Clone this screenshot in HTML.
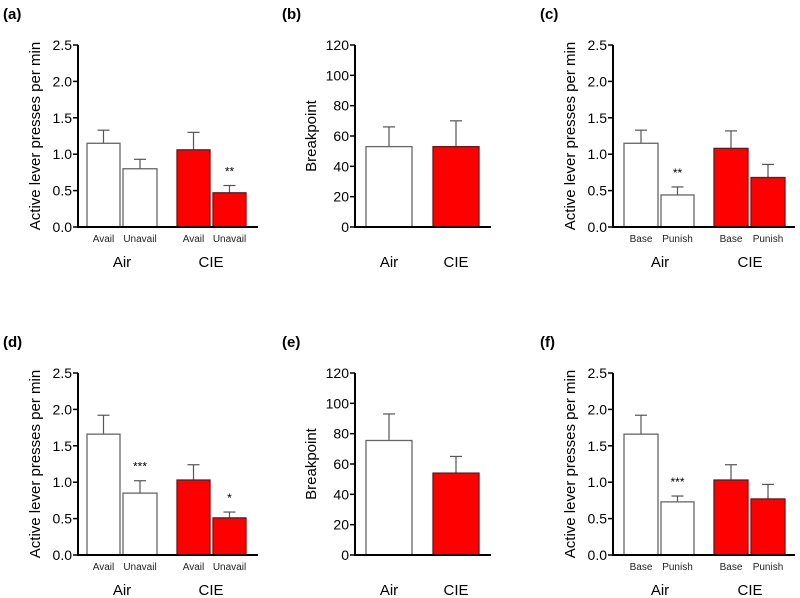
<!DOCTYPE html>
<html><head><meta charset="utf-8"><style>
html,body{margin:0;padding:0;background:#fff;width:800px;height:598px;overflow:hidden}
svg text{font-family:"Liberation Sans",Arial,sans-serif}
</style></head><body>
<svg id="fig" width="800" height="598" viewBox="0 0 800 598" xmlns="http://www.w3.org/2000/svg"></svg>
<script>
// ---- data ----
const aValues=[1.15,0.80,1.06,0.47];
const aErrors=[0.18,0.13,0.24,0.10];
const aStars=["","","","**"];
const bValues=[53,53];
const bErrors=[13,17];
const cValues=[1.15,0.44,1.08,0.68];
const cErrors=[0.18,0.11,0.24,0.18];
const cStars=["","**","",""];
const dValues=[1.66,0.85,1.03,0.51];
const dErrors=[0.26,0.17,0.21,0.08];
const dStars=["","***","","*"];
const eValues=[75.5,54];
const eErrors=[17.5,11];
const fValues=[1.66,0.73,1.03,0.77];
const fErrors=[0.26,0.08,0.21,0.20];
const fStars=["","***","",""];
const rateTicks=["0.0","0.5","1.0","1.5","2.0","2.5"];
const bpTicks=["0","20","40","60","80","100","120"];
const availCats=["Avail","Unavail","Avail","Unavail"];
const punishCats=["Base","Punish","Base","Punish"];
const groups=["Air","CIE"];

const NS="http://www.w3.org/2000/svg";
const svg=document.getElementById('fig');
function mk(tag,attrs,parent,text){const e=document.createElementNS(NS,tag);for(const k in attrs)e.setAttribute(k,attrs[k]);if(text!==undefined)e.textContent=text;(parent||svg).appendChild(e);return e;}

function panel(o){
  const g=mk('g',{});
  
  
  const top=o.top,bot=o.top+182,ax=o.ax,ymax=o.ymax;
  const y=v=>bot-(v/ymax)*(bot-top);
  const lab=mk('text',{x:o.lx,y:o.top-26,'font-size':15,'font-weight':'bold'},g,'('+o.id+')');
  
  
  o.values.forEach((v,i)=>{
    const x0=o.bars[i][0],x1=o.bars[i][1],xc=(x0+x1)/2;
    const red=o.red[i];
    const eb=mk('line',{x1:xc,x2:xc,y1:y(v),y2:y(v+o.errors[i]),stroke:'#555','stroke-width':1.2},g);
    
    
    const cap=mk('line',{x1:xc-6,x2:xc+6,y1:y(v+o.errors[i]),y2:y(v+o.errors[i]),stroke:'#555','stroke-width':1.2},g);
    
    
    const r=mk('rect',{x:x0,y:y(v),width:x1-x0,height:bot-y(v),fill:red?'#ff0000':'#fff',stroke:red?'#7a1010':'#666','stroke-width':1.3},g);
    
    
    if(o.stars&&o.stars[i]){
      const s=mk('text',{x:xc,y:y(v+o.errors[i])-10,'font-size':12,'text-anchor':'middle'},g,o.stars[i]);
      
      
    }
    if(o.cats){
      const c=mk('text',{x:xc,y:bot+15,'font-size':10,'text-anchor':'middle',fill:'#222'},g,o.cats[i]);
      
      
    }
  });
  const ya=mk('line',{x1:ax,x2:ax,y1:top,y2:bot,stroke:'#000','stroke-width':2},g);
  
  
  const xa=mk('line',{x1:ax-1,x2:o.axEnd,y1:bot,y2:bot,stroke:'#000','stroke-width':2},g);
  
  
  o.ticks.forEach(t=>{
    const ty=y(parseFloat(t));
    const tl=mk('line',{x1:ax-5,x2:ax,y1:ty,y2:ty,stroke:'#000','stroke-width':1.5},g);
    
    
    const tt=mk('text',{x:ax-6,y:ty+5,'font-size':14,'text-anchor':'end'},g,t);
    
    
  });
  const tx=o.titleX;
  const yt=mk('text',{x:tx,y:(top+bot)/2,'font-size':15,'text-anchor':'middle',transform:'rotate(-90 '+tx+' '+((top+bot)/2)+')'},g,o.title);
  
  
  o.groupX.forEach((gx,i)=>{
    const t=mk('text',{x:gx,y:o.cats?bot+40:bot+40,'font-size':15,'text-anchor':'middle'},g,groups[i]);
    
    
  });
}
const b4a=[[87,120],[123,157],[177,210],[213,246]];
const b4c=[[624,658],[661,694],[714,748],[751,785]];
const b2=[[366,412],[433,479]];
const R4=[false,false,true,true], R2=[false,true];
panel({id:'a',top:45,ax:78,axEnd:258,lx:3,ymax:2.5,values:aValues,errors:aErrors,stars:aStars,bars:b4a,red:R4,cats:availCats,ticks:rateTicks,title:'Active lever presses per min',titleX:40,groupX:[122,211]});
panel({id:'b',top:45,ax:355,axEnd:491,lx:282,ymax:120,values:bValues,errors:bErrors,bars:b2,red:R2,ticks:bpTicks,title:'Breakpoint',titleX:316,groupX:[389,456]});
panel({id:'c',top:45,ax:613,axEnd:795,lx:540,ymax:2.5,values:cValues,errors:cErrors,stars:cStars,bars:b4c,red:R4,cats:punishCats,ticks:rateTicks,title:'Active lever presses per min',titleX:575,groupX:[660,750]});
panel({id:'d',top:373,ax:78,axEnd:258,lx:3,ymax:2.5,values:dValues,errors:dErrors,stars:dStars,bars:b4a,red:R4,cats:availCats,ticks:rateTicks,title:'Active lever presses per min',titleX:40,groupX:[122,211]});
panel({id:'e',top:373,ax:355,axEnd:491,lx:282,ymax:120,values:eValues,errors:eErrors,bars:b2,red:R2,ticks:bpTicks,title:'Breakpoint',titleX:316,groupX:[389,456]});
panel({id:'f',top:373,ax:613,axEnd:795,lx:540,ymax:2.5,values:fValues,errors:fErrors,stars:fStars,bars:b4c,red:R4,cats:punishCats,ticks:rateTicks,title:'Active lever presses per min',titleX:575,groupX:[660,750]});
</script>
</body></html>
